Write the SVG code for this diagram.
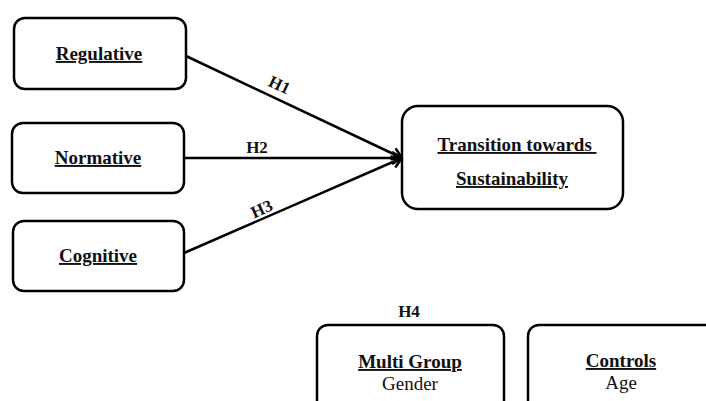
<svg xmlns="http://www.w3.org/2000/svg" width="706" height="401" viewBox="0 0 706 401">
<defs>
<style>
.box{fill:#fff;stroke:#000;stroke-width:2.5}
text{font-family:'Liberation Serif','DejaVu Serif','Times New Roman',serif;fill:#111;text-anchor:middle}
.t{font-size:19px;font-weight:bold;text-decoration:underline}
.n{font-size:19px}
.h{font-size:17px;font-weight:bold}
.c{stroke:#000;stroke-width:2.5;fill:none}
</style>
<marker id="arr" markerWidth="14" markerHeight="14" refX="11" refY="7" orient="auto" markerUnits="userSpaceOnUse">
<path d="M1,1 L11,7 L1,13" fill="none" stroke="#000" stroke-width="2.5"/>
</marker>
</defs>
<rect width="706" height="401" fill="#fff"/>
<g id="connectors">
<line class="c" x1="186" y1="56" x2="402" y2="158" marker-end="url(#arr)"/>
<line class="c" x1="184" y1="158" x2="402" y2="158" marker-end="url(#arr)"/>
<line class="c" x1="184" y1="253" x2="402" y2="158" marker-end="url(#arr)"/>
<text class="h" font-family="Liberation Serif, serif" transform="translate(277,90) rotate(25)">H1</text>
<text class="h" font-family="Liberation Serif, serif" x="257" y="153">H2</text>
<text class="h" font-family="Liberation Serif, serif" transform="translate(264,214) rotate(-24)">H3</text>
</g>
<g id="regulative">
<rect class="box" x="14" y="18" width="172" height="71" rx="11"/>
<text class="t" font-family="Liberation Serif, serif" x="99" y="60">Regulative</text>
</g>
<g id="normative">
<rect class="box" x="12" y="123" width="172" height="70" rx="11"/>
<text class="t" font-family="Liberation Serif, serif" x="98" y="164">Normative</text>
</g>
<g id="cognitive">
<rect class="box" x="13" y="221" width="171" height="70" rx="11"/>
<text class="t" font-family="Liberation Serif, serif" x="98" y="262">Cognitive</text>
</g>
<g id="transition">
<rect class="box" x="402" y="106" width="221" height="103" rx="16"/>
<text class="t" font-family="Liberation Serif, serif" x="517" y="151" xml:space="preserve">Transition towards </text>
<text class="t" font-family="Liberation Serif, serif" x="512" y="185">Sustainability</text>
</g>
<g id="multigroup">
<text class="h" font-family="Liberation Serif, serif" x="409" y="317">H4</text>
<rect class="box" x="317" y="325" width="187" height="90" rx="11"/>
<text class="t" font-family="Liberation Serif, serif" x="410" y="368">Multi Group</text>
<text class="n" font-family="Liberation Serif, serif" x="410" y="390">Gender</text>
</g>
<g id="controls">
<rect class="box" x="528" y="325" width="200" height="90" rx="11"/>
<text class="t" font-family="Liberation Serif, serif" x="621" y="367">Controls</text>
<text class="n" font-family="Liberation Serif, serif" x="621" y="389">Age</text>
</g>
</svg>
